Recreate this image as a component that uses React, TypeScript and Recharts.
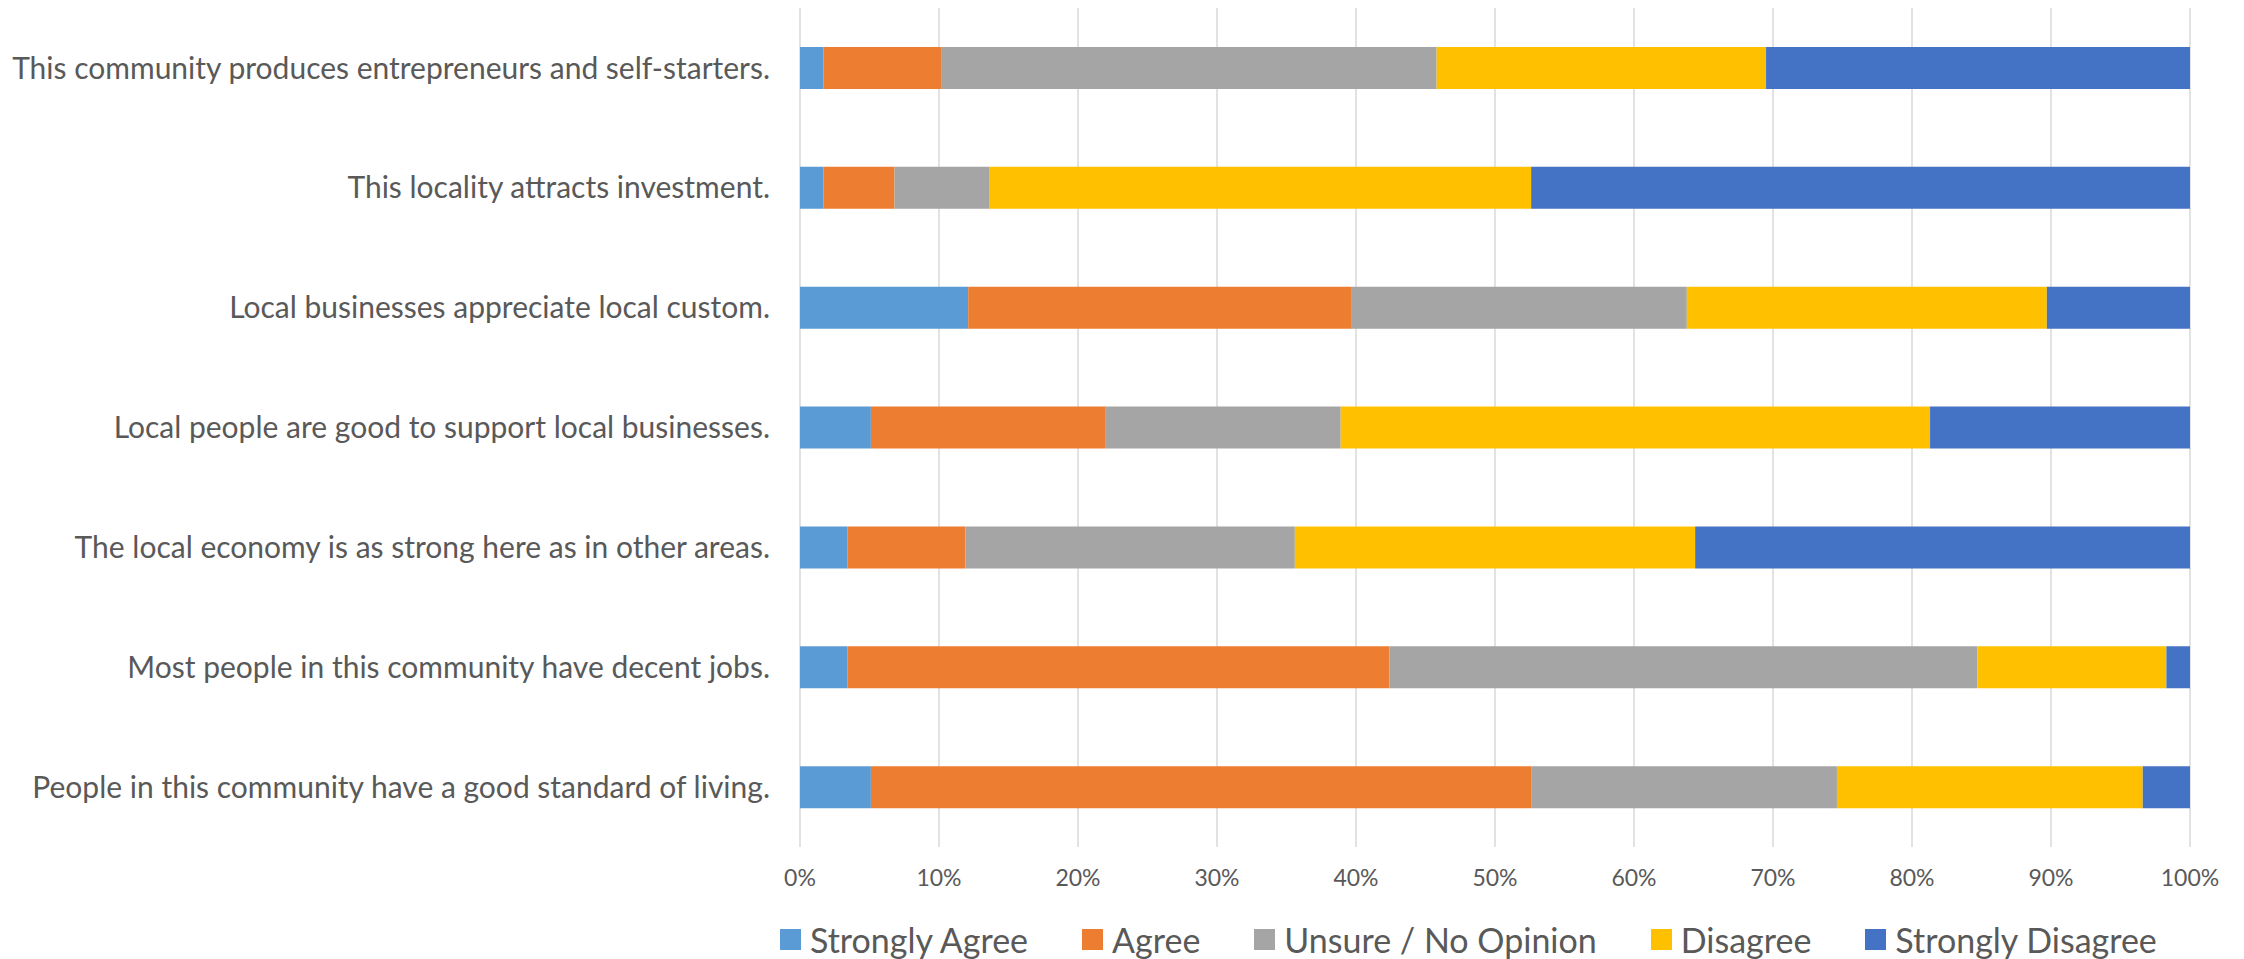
import React from "react";
import { BarChart, Bar, XAxis, YAxis, CartesianGrid, Legend } from "recharts";

const categories = [
  "This community produces entrepreneurs and self-starters.",
  "This locality attracts investment.",
  "Local businesses appreciate local custom.",
  "Local people are good to support local businesses.",
  "The local economy is as strong here as in other areas.",
  "Most people in this community have decent jobs.",
  "People in this community have a good standard of living.",
];

const stronglyAgree = [1.7, 1.7, 12.1, 5.1, 3.4, 3.4, 5.1];
const agree = [8.5, 5.1, 27.6, 16.9, 8.5, 39.0, 47.5];
const unsure = [35.6, 6.8, 24.1, 16.9, 23.7, 42.3, 22.0];
const disagree = [23.7, 39.0, 25.9, 42.4, 28.8, 13.6, 22.0];
const stronglyDisagree = [30.5, 47.4, 10.3, 18.7, 35.6, 1.7, 3.4];

const xTicks = [0, 10, 20, 30, 40, 50, 60, 70, 80, 90, 100];

const seriesNames = ["Strongly Agree", "Agree", "Unsure / No Opinion", "Disagree", "Strongly Disagree"];
const seriesColors = ["#5B9BD5", "#ED7D31", "#A5A5A5", "#FFC000", "#4472C4"];
const seriesValues = [stronglyAgree, agree, unsure, disagree, stronglyDisagree];

const data = categories.map((name, i) => {
  const row: Record<string, string | number> = { name };
  seriesNames.forEach((s, k) => {
    row[s] = seriesValues[k][i];
  });
  return row;
});

const FONT = "Lato, 'Open Sans', sans-serif";
const TEXT = "#595959";

const LegendContent = (props: any) => {
  const payload = [...(props.payload || [])].sort(
    (a: any, b: any) => seriesNames.indexOf(a.value) - seriesNames.indexOf(b.value)
  );
  return (
    <div
      style={{
        height: 40,
        display: "flex",
        alignItems: "center",
        paddingLeft: 780,
        fontFamily: FONT,
        fontSize: 34,
        color: TEXT,
        whiteSpace: "nowrap",
      }}
    >
      {payload.map((p: any) => (
        <div key={p.value} style={{ display: "flex", alignItems: "center", marginRight: 54 }}>
          <span style={{ width: 21, height: 21, background: p.color, display: "inline-block", marginRight: 9 }} />
          <span>{p.value}</span>
        </div>
      ))}
    </div>
  );
};

export default function App() {
  return (
    <div style={{ position: "absolute", left: 0, top: 0, background: "#fff" }}>
      <BarChart
        width={2244}
        height={959}
        data={data}
        layout="vertical"
        margin={{ top: 8, right: 54, left: 0, bottom: 0 }}
      >
        <CartesianGrid horizontal={false} stroke="#D9D9D9" strokeWidth={1.5} />
        <XAxis
          type="number"
          domain={[0, 100]}
          ticks={xTicks}
          allowDataOverflow
          tickFormatter={(v: number) => `${v}%`}
          axisLine={false}
          tickLine={false}
          tickSize={0}
          tickMargin={23}
          height={72}
          tick={{ fill: TEXT, fontSize: 23, fontFamily: FONT }}
          interval={0}
        />
        <YAxis
          type="category"
          dataKey="name"
          width={800}
          axisLine={false}
          tickLine={false}
          tickSize={0}
          tickMargin={30}
          interval={0}
          tick={{ fill: TEXT, fontSize: 30, fontFamily: FONT }}
        />
        <Legend verticalAlign="bottom" content={<LegendContent />} />
        {seriesNames.map((s, k) => (
          <Bar key={s} dataKey={s} stackId="a" fill={seriesColors[k]} barSize={42} isAnimationActive={false} />
        ))}
      </BarChart>
    </div>
  );
}
